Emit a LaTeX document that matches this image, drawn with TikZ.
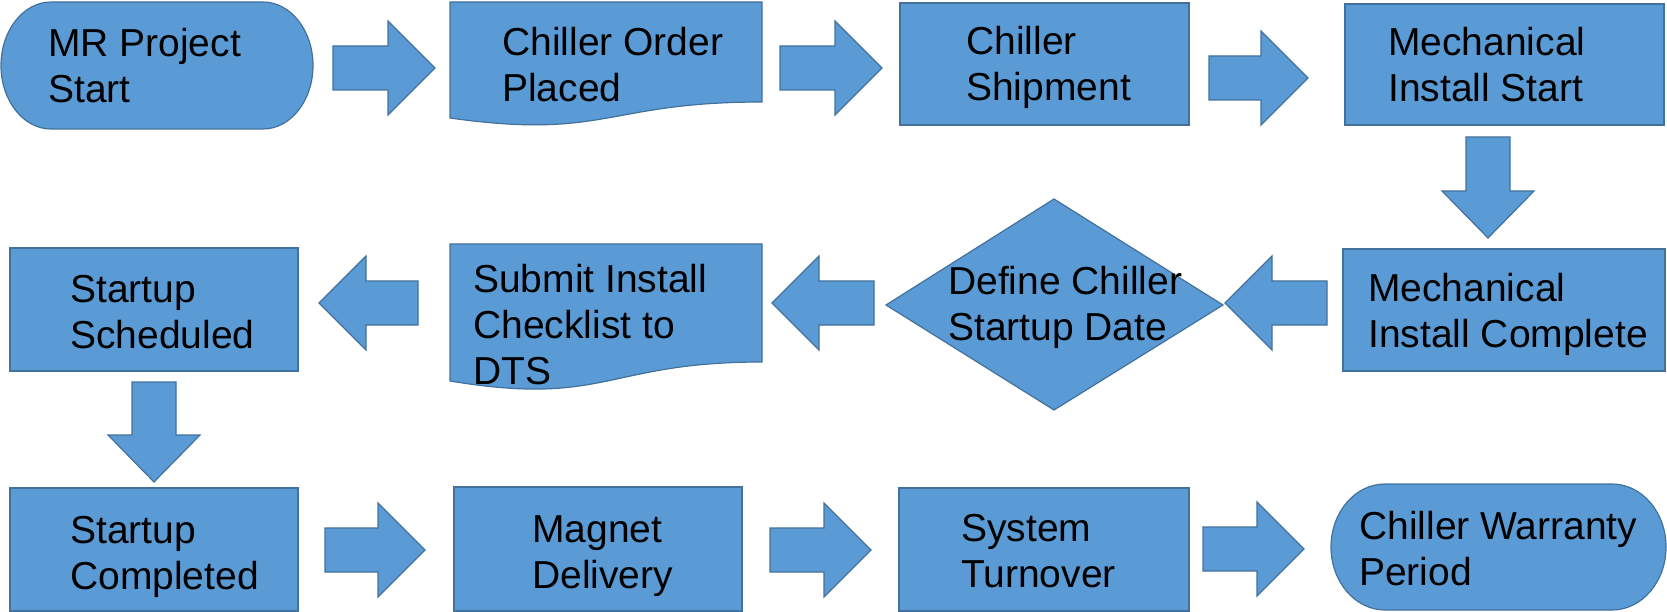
\documentclass[tikz,border=0pt]{standalone}
\usepackage{fontspec}
\setmainfont{Liberation Sans}
\definecolor{boxfill}{HTML}{5B9BD5}
\definecolor{boxline}{HTML}{41719C}
\newcommand\rarr[3]{\draw[blk] (#1,#3-22) -- (#2-47,#3-22) -- (#2-47,#3-47) -- (#2,#3) -- (#2-47,#3+47) -- (#2-47,#3+22) -- (#1,#3+22) -- cycle;}
\newcommand\larr[3]{\draw[blk] (#1,#3-22) -- (#2+47,#3-22) -- (#2+47,#3-47) -- (#2,#3) -- (#2+47,#3+47) -- (#2+47,#3+22) -- (#1,#3+22) -- cycle;}
\newcommand\darr[3]{\draw[blk] (#1-22,#2) -- (#1+22,#2) -- (#1+22,#3-47) -- (#1+46,#3-47) -- (#1,#3) -- (#1-46,#3-47) -- (#1-22,#3-47) -- cycle;}
\begin{document}
\begin{tikzpicture}[x=1pt,y=-1pt,
  blk/.style={fill=boxfill,draw=boxline,line width=1.2pt,line join=miter},
  lbl/.style={anchor=base west,align=left,inner sep=0pt,font=\fontsize{39}{46}\selectfont}]
\useasboundingbox (0,0) rectangle (1667,612);
% shapes
\draw[blk] (51,2) -- (263,2) arc[start angle=-90,end angle=90,x radius=50,y radius=63.5] -- (51,129) arc[start angle=90,end angle=270,x radius=50,y radius=63.5] -- cycle;
\draw[blk] (450,2) -- (762,2) -- (762,102) .. controls (606,102) and (606,140) .. (450,118) -- cycle;
\draw[blk] (900,3) rectangle (1189,125);
\draw[blk] (1345,4) rectangle (1664,125);
\draw[blk] (1343,249) rectangle (1665,371);
\draw[blk] (886,305) -- (1054,199) -- (1223,305) -- (1054,410) -- cycle;
\draw[blk] (450,244) -- (762,244) -- (762,362) .. controls (606,362) and (606,407) .. (450,381) -- cycle;
\draw[blk] (10,248) rectangle (298,371);
\draw[blk] (10,488) rectangle (298,611);
\draw[blk] (454,487) rectangle (742,611);
\draw[blk] (899,488) rectangle (1189,611);
\draw[blk] (1385,484) -- (1612,484) arc[start angle=-90,end angle=90,x radius=54,y radius=63] -- (1385,610) arc[start angle=90,end angle=270,x radius=54,y radius=63] -- cycle;
% block arrows
\rarr{333}{435}{68}
\rarr{780}{882}{68}
\rarr{1209}{1308}{78}
\darr{1488}{137}{238}
\larr{1327}{1225}{303}
\larr{874}{772}{303}
\larr{418}{319}{303}
\darr{154}{382}{482}
\rarr{325}{425}{550}
\rarr{770}{871}{550}
\rarr{1203}{1304}{549}
% labels (anchor = baseline of last line)
\node[lbl] (t1) at (48,103) {MR Project\\Start};
\node[lbl] (t2) at (502,102) {Chiller Order\\Placed};
\node[lbl] (t3) at (966,101) {Chiller\\Shipment};
\node[lbl] (t4) at (1388,102) {Mechanical\\Install Start};
\node[lbl] (t5) at (1368,347) {Mechanical\\Install Complete};
\node[lbl] (t6) at (948,340) {Define Chiller\\Startup Date};
\node[lbl] (t7) at (473,384) {Submit Install\\Checklist to\\DTS};
\node[lbl] (t8) at (70,348) {Startup\\Scheduled};
\node[lbl] (t9) at (70,589) {Startup\\Completed};
\node[lbl] (t10) at (532,588) {Magnet\\Delivery};
\node[lbl] (t11) at (961,587) {System\\Turnover};
\node[lbl] (t12) at (1359,585) {Chiller Warranty\\Period};
\end{tikzpicture}
\end{document}
